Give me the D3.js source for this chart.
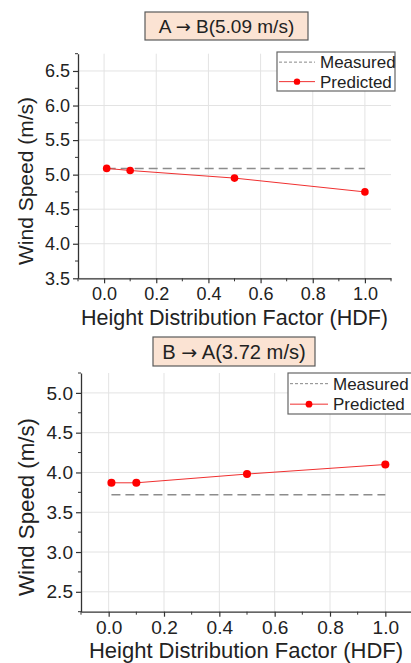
<!DOCTYPE html>
<html>
<head>
<meta charset="utf-8">
<script src="https://cdn.jsdelivr.net/npm/d3@7"></script>
<style>
  html, body { margin: 0; padding: 0; background: #fff; }
  svg { display: block; font-family: "Liberation Sans", Arial, sans-serif; }
</style>
</head>
<body>
<svg id="chart" width="411" height="663"></svg>
<script>
// Height distribution factor values used for each prediction
const hdf = [0.01, 0.1, 0.5, 1.0];

// A -> B direction
const titleAB = ["A ", "\u2192", " B(5.09 m/s)"];
const predictedAB = [5.09, 5.06, 4.95, 4.75];
const measuredAB = 5.09;
const yTicksAB = [3.5, 4.0, 4.5, 5.0, 5.5, 6.0, 6.5];
const yDomainAB = [3.5, 6.75];

// B -> A direction
const titleBA = ["B ", "\u2192", " A(3.72 m/s)"];
const predictedBA = [3.87, 3.87, 3.98, 4.10];
const measuredBA = 3.72;
const yTicksBA = [2.5, 3.0, 3.5, 4.0, 4.5, 5.0];
const yDomainBA = [2.25, 5.25];

const xTicks = [0.0, 0.2, 0.4, 0.6, 0.8, 1.0];
const xDomain = [-0.1, 1.1];
const legendLabels = ["Measured", "Predicted"];
const xTitle = "Height Distribution Factor (HDF)";
const yTitle = "Wind Speed (m/s)";

const svg = d3.select("#chart");
const fmt = d3.format(".1f");

function drawPanel(p) {
  const g = svg.append("g");
  const x = d3.scaleLinear().domain(xDomain).range([p.left, p.right]);
  const y = d3.scaleLinear().domain(p.yDomain).range([p.bottom, p.top]);
  const s = p.scale;

  // title box
  g.append("rect")
    .attr("x", p.tBox[0]).attr("y", p.tBox[1])
    .attr("width", p.tBox[2]).attr("height", p.tBox[3])
    .attr("fill", "#fbe3d3").attr("stroke", "#5a5a5a").attr("stroke-width", 1.2);
  const tt = g.append("text")
    .attr("x", p.tBox[0] + p.tBox[2] / 2)
    .attr("y", p.tBox[1] + p.tBox[3] / 2)
    .attr("dy", "0.36em")
    .attr("text-anchor", "middle")
    .attr("font-size", 19 * s)
    .attr("fill", "#222");
  p.title.forEach((part, i) => {
    const ts = tt.append("tspan").text(part);
    if (i === 1) ts.attr("font-family", "\"DejaVu Sans\", sans-serif").attr("font-size", 18 * s);
  });

  // gridlines
  g.append("g").selectAll("line").data(xTicks).join("line")
    .attr("x1", d => x(d)).attr("x2", d => x(d))
    .attr("y1", p.top).attr("y2", p.bottom)
    .attr("stroke", "#e3e3e3").attr("stroke-width", 1);
  g.append("g").selectAll("line").data(p.yTicks).join("line")
    .attr("x1", p.left).attr("x2", p.right)
    .attr("y1", d => y(d)).attr("y2", d => y(d))
    .attr("stroke", "#e3e3e3").attr("stroke-width", 1);

  // minor ticks
  const xMinor = d3.range(-0.1, 1.1001, 0.1).map(v => +v.toFixed(2)).filter(v => !xTicks.includes(v));
  const yMinor = [];
  for (let v = p.yDomain[0]; v <= p.yDomain[1] + 1e-9; v += 0.25) {
    const r = +v.toFixed(2);
    if (!p.yTicks.includes(r)) yMinor.push(r);
  }

  const xAxis = d3.axisBottom(x).tickValues(xTicks).tickFormat(fmt).tickSize(5).tickSizeOuter(0).tickPadding(4);
  const yAxis = d3.axisLeft(y).tickValues(p.yTicks).tickFormat(fmt).tickSize(5).tickSizeOuter(0).tickPadding(3);

  const gx = g.append("g").attr("transform", `translate(0,${p.bottom})`).call(xAxis);
  const gy = g.append("g").attr("transform", `translate(${p.left},0)`).call(yAxis);
  [gx, gy].forEach(a => {
    a.select(".domain").attr("stroke", "#333").attr("stroke-width", 1.3);
    a.selectAll(".tick line").attr("stroke", "#333").attr("stroke-width", 1.2);
    a.selectAll(".tick text").attr("font-size", 18 * s).attr("fill", "#222")
      .attr("font-family", "\"Liberation Sans\", Arial, sans-serif");
  });

  g.append("g").selectAll("line").data(xMinor).join("line")
    .attr("x1", d => x(d)).attr("x2", d => x(d))
    .attr("y1", p.bottom).attr("y2", p.bottom + 3)
    .attr("stroke", "#333").attr("stroke-width", 1);
  g.append("g").selectAll("line").data(yMinor).join("line")
    .attr("x1", p.left - 3).attr("x2", p.left)
    .attr("y1", d => y(d)).attr("y2", d => y(d))
    .attr("stroke", "#333").attr("stroke-width", 1);

  // axis titles
  g.append("text")
    .attr("x", (p.left + p.right) / 2 + p.xTitleShift)
    .attr("y", p.xTitleY)
    .attr("text-anchor", "middle")
    .attr("font-size", p.xTitleSize).attr("fill", "#222")
    .text(xTitle);
  g.append("text")
    .attr("transform", `translate(${p.yTitleX},${p.yTitleCY}) rotate(-90)`)
    .attr("text-anchor", "middle")
    .attr("font-size", 21 * s).attr("fill", "#222")
    .text(yTitle);

  // measured reference line
  g.append("line")
    .attr("x1", x(hdf[0])).attr("x2", x(hdf[hdf.length - 1]))
    .attr("y1", y(p.measured)).attr("y2", y(p.measured))
    .attr("stroke", "#8c8c8c").attr("stroke-width", 1.5)
    .attr("stroke-dasharray", "9,5");

  // predicted series
  const pts = hdf.map((h, i) => [h, p.predicted[i]]);
  g.append("path")
    .datum(pts)
    .attr("fill", "none").attr("stroke", "#f03030").attr("stroke-width", 1)
    .attr("d", d3.line().x(d => x(d[0])).y(d => y(d[1])));
  g.append("g").selectAll("circle").data(pts).join("circle")
    .attr("cx", d => x(d[0])).attr("cy", d => y(d[1]))
    .attr("r", 3.8 * s).attr("fill", "#f00");

  // legend
  const L = p.legend;
  g.append("rect")
    .attr("x", L.x).attr("y", L.y).attr("width", L.w).attr("height", L.h)
    .attr("fill", "#fff").attr("stroke", "#666").attr("stroke-width", 1.2);
  const rowY = [L.y + L.h * 0.26, L.y + L.h * 0.76];
  g.append("line")
    .attr("x1", L.x + 2).attr("x2", L.x + L.sample)
    .attr("y1", rowY[0]).attr("y2", rowY[0])
    .attr("stroke", "#888").attr("stroke-width", 1).attr("stroke-dasharray", "3,2");
  g.append("line")
    .attr("x1", L.x + 2).attr("x2", L.x + L.sample)
    .attr("y1", rowY[1]).attr("y2", rowY[1])
    .attr("stroke", "#f03030").attr("stroke-width", 1);
  g.append("circle")
    .attr("cx", L.x + 2 + (L.sample - 2) / 2).attr("cy", rowY[1])
    .attr("r", 3.2 * s).attr("fill", "#f00");
  legendLabels.forEach((t, i) => {
    g.append("text")
      .attr("x", L.x + L.sample + 5).attr("y", rowY[i])
      .attr("dy", "0.36em")
      .attr("font-size", L.font).attr("fill", "#222")
      .text(t);
  });
}

drawPanel({
  title: titleAB, tBox: [145, 12, 163, 28],
  left: 78, right: 391, top: 53.7, bottom: 278.3,
  yDomain: yDomainAB, yTicks: yTicksAB,
  predicted: predictedAB, measured: measuredAB,
  scale: 1, xTitleY: 325, xTitleSize: 21.5, xTitleShift: 0, yTitleX: 33, yTitleCY: 181,
  legend: { x: 277, y: 52, w: 118, h: 39, sample: 38, font: 17 }
});

drawPanel({
  title: titleBA, tBox: [153, 337, 162, 29],
  left: 81, right: 413, top: 373, bottom: 611.7,
  yDomain: yDomainBA, yTicks: yTicksBA,
  predicted: predictedBA, measured: measuredBA,
  scale: 1.06, xTitleY: 658, xTitleSize: 22, xTitleShift: -1, yTitleX: 34, yTitleCY: 507,
  legend: { x: 288, y: 373, w: 126, h: 41, sample: 40, font: 17 }
});
</script>
</body>
</html>
